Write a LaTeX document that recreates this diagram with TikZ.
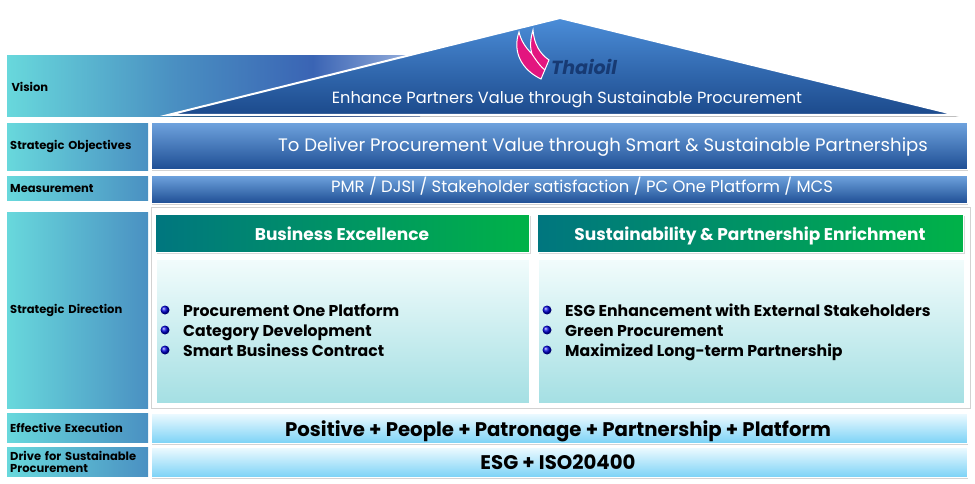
\documentclass[tikz,border=0pt]{standalone}
\usepackage{fontspec}
\setmainfont{Poppins}
\usetikzlibrary{shadows,positioning}
\definecolor{labcyan}{HTML}{68D8DC}
\definecolor{labblue}{HTML}{4A90C2}
\definecolor{bandblue}{HTML}{3A64B4}
\definecolor{bandlight}{HTML}{9FB6E0}
\definecolor{barhi}{HTML}{6FA3DE}
\definecolor{barlo}{HTML}{1E4E94}
\definecolor{roofhi}{HTML}{4B8DD8}
\definecolor{rooflo}{HTML}{1C4A8C}
\definecolor{headteal}{HTML}{00767F}
\definecolor{headgreen}{HTML}{00B248}
\definecolor{bodyhi}{HTML}{F2FCFC}
\definecolor{bodylo}{HTML}{A4DFE3}
\definecolor{exechi}{HTML}{EDFAFF}
\definecolor{execlo}{HTML}{7BD2F6}
\definecolor{logopink}{HTML}{E3157F}
\definecolor{logoblue}{HTML}{173A73}
\pgfdeclarehorizontalshading{visionband}{100bp}{
  color(0bp)=(labcyan); color(25bp)=(labcyan); color(45bp)=(labblue);
  color(62bp)=(bandblue); color(75bp)=(bandlight); color(100bp)=(bandlight)}
\tikzset{
    row label/.style={rectangle, left color=labcyan, right color=labblue, anchor=north west,
        minimum width=141pt, text width=135pt, align=left, inner xsep=3pt,
        font=\bfseries\fontsize{11.5}{12}\selectfont},
    dark bar/.style={rectangle, top color=barhi, bottom color=barlo, anchor=north west,
        minimum width=816pt, draw=white, line width=0.8pt,
        drop shadow={opacity=0.35, shadow xshift=1pt, shadow yshift=-2pt}},
    light bar/.style={rectangle, top color=exechi, bottom color=execlo, anchor=north west,
        minimum width=816pt, minimum height=30pt, draw=white, line width=0.8pt,
        drop shadow={opacity=0.35, shadow xshift=1pt, shadow yshift=-2pt}},
    head box/.style={rectangle, left color=headteal, right color=headgreen, anchor=north west,
        minimum height=38pt, draw=white, line width=1.2pt,
        drop shadow={opacity=0.3, shadow xshift=1pt, shadow yshift=-1.5pt}},
    head text/.style={anchor=base, text=white, font=\bfseries\fontsize{17}{20}\selectfont},
    body box/.style={rectangle, top color=bodyhi, bottom color=bodylo, anchor=north west,
        minimum height=145pt, draw=white, line width=1.5pt,
        drop shadow={opacity=0.3, shadow xshift=1pt, shadow yshift=-1.5pt}},
    bar text/.style={anchor=base, text=white, font=\fontsize{16}{19}\selectfont},
    exec text/.style={anchor=base, text=black, font=\bfseries\fontsize{19.7}{22}\selectfont},
    item/.style={anchor=base west, inner sep=0pt, font=\bfseries\fontsize{15.7}{18}\selectfont},
    bullet/.style={circle, inner sep=0pt, minimum size=9pt, ball color=blue!85!black}
}
\begin{document}
\begin{tikzpicture}[x=1pt,y=-1pt]
\useasboundingbox (0,0) rectangle (975,484);
% vision band and roof
\shade[shading=visionband] (7,56) rectangle (420,117);
\node[anchor=west, font=\bfseries\fontsize{11.5}{12}\selectfont] (vision) at (8,87) {Vision};
\coordinate (roofL) at (168,115);
\coordinate (roofT) at (560,18);
\coordinate (roofR) at (957,115);
\fill[black, opacity=0.25] ([xshift=2pt,yshift=-2pt]roofL) -- ([xshift=2pt,yshift=-2pt]roofT) -- ([xshift=2pt,yshift=-2pt]roofR) -- cycle;
\shade[top color=roofhi, bottom color=rooflo, draw=white, line width=2pt, line join=miter]
    (roofL) -- (roofT) -- (roofR) -- cycle;
\node[bar text, font=\fontsize{16.2}{19}\selectfont] (visiontext) at (567,104) {Enhance Partners Value through Sustainable Procurement};
% logo
\fill[logopink, draw=white, line width=1pt] (519,32) .. controls (512,52) and (522,70) .. (541,79)
    -- (549,60) .. controls (540,54) and (534,44) .. (533,30)
    .. controls (530,40) and (530,48) .. (532,54)
    .. controls (526,48) and (521,41) .. cycle;
\draw[white, line width=1pt] (532,54) .. controls (537,62) and (542,68) .. (545,70);
\node[text=logoblue, font=\bfseries\itshape\fontsize{19}{21}\selectfont] (logo) at (584,67) {Thaioil};
% left labels
\node[row label, minimum height=47pt] (objL) at (7,123) {Strategic Objectives};
\node[row label, minimum height=24pt] (measL) at (7,176) {Measurement};
\node[row label, minimum height=196pt] (dirL) at (7,212) {Strategic Direction};
\node[row label, minimum height=29pt] (execL) at (7,413) {Effective Execution};
\node[row label, minimum height=29pt, font=\bfseries\fontsize{11.5}{12.5}\selectfont] (driveL) at (7,447) {Drive for Sustainable\\Procurement};
% bars
\node[dark bar, minimum height=47pt] (objbar) at (151,122) {};
\node[bar text, font=\fontsize{18.1}{21}\selectfont] (objtext) at (603,151.5) {To Deliver Procurement Value through Smart \& Sustainable Partnerships};
\node[dark bar, minimum height=28pt] (measbar) at (151,175) {};
\node[bar text, font=\fontsize{16.4}{19}\selectfont] (meastext) at (582,193) {PMR / DJSI / Stakeholder satisfaction / PC One Platform / MCS};
% strategic direction
\node[rectangle, anchor=north west, minimum width=819pt, minimum height=201pt, draw=gray!35, fill=white] (frame) at (151,207) {};
\node[head box, minimum width=374pt] (headL) at (155,214) {};
\node[head text] (headLtext) at (342,240) {Business Excellence};
\node[head box, minimum width=426pt] (headR) at (537,214) {};
\node[head text] (headRtext) at (750,240) {Sustainability \& Partnership Enrichment};
\node[body box, minimum width=374pt] (bodyL) at (155,258) {};
\node[body box, minimum width=427pt] (bodyR) at (537,258) {};
\foreach \t [count=\i] in {Procurement One Platform, Category Development, Smart Business Contract} {
    \node[bullet] (bl\i) at (165,290+20*\i) {};
    \node[item] (il\i) at (183,296.5+20*\i) {\t};
}
\foreach \t [count=\i] in {ESG Enhancement with External Stakeholders, Green Procurement, Maximized Long-term Partnership} {
    \node[bullet] (br\i) at (547,290+20*\i) {};
    \node[item] (ir\i) at (565,296.5+20*\i) {\t};
}
% execution rows
\node[light bar] (execbar) at (151,413) {};
\node[exec text] (exectext) at (558,436.5) {Positive + People + Patronage + Partnership + Platform};
\node[light bar] (drivebar) at (151,447) {};
\node[exec text] (drivetext) at (558,469) {ESG + ISO20400};
\end{tikzpicture}
\end{document}
